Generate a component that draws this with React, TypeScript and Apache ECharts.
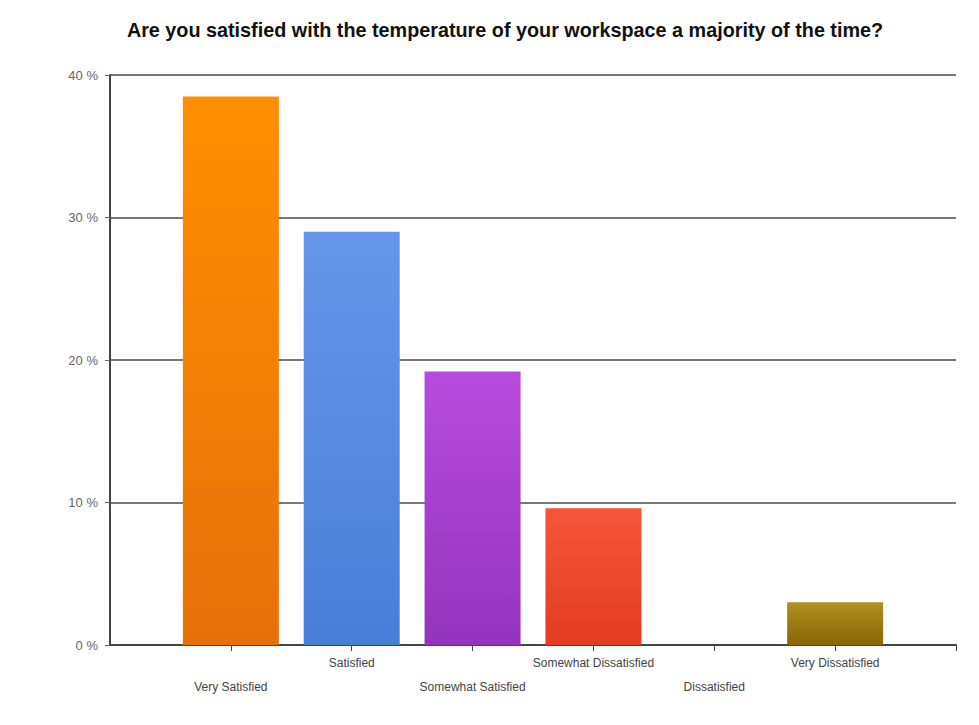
import React, { useEffect, useRef } from "react";
import * as echarts from "echarts";

const titleText = "Are you satisfied with the temperature of your workspace a majority of the time?";
const categories = [
  "Very Satisfied",
  "Satisfied",
  "Somewhat Satisfied",
  "Somewhat Dissatisfied",
  "Dissatisfied",
  "Very Dissatisfied",
];
const values = [38.5, 29.0, 19.2, 9.6, 0, 3.0];
const topColors = ["#FF8F00", "#6696EA", "#B84BDD", "#F5563A", "#B0921E"];
const bottomColors = ["#E8700A", "#4A7ED6", "#9434BE", "#E23C22", "#8A6406"];
const colorIndex = [0, 1, 2, 3, 4, 4];
const yTicks = [0, 10, 20, 30, 40];

export default function App() {
  const ref = useRef<HTMLDivElement>(null);
  useEffect(() => {
    if (!ref.current) return;
    const chart = echarts.init(ref.current, null, { renderer: "svg" });
    chart.setOption({
      animation: false,
      backgroundColor: "#ffffff",
      title: {
        text: titleText,
        left: 500,
        textAlign: "center",
        top: 15,
        textStyle: {
          fontFamily: "Liberation Sans, Arial, sans-serif",
          fontSize: 19.8,
          fontWeight: "bold",
          color: "#111",
        },
      },
      grid: { left: 110, right: 23, top: 75, bottom: 80, containLabel: false },
      xAxis: {
        type: "value",
        min: 0,
        max: categories.length + 1,
        interval: 1,
        splitLine: { show: false },
        axisLine: { show: true, onZero: false, lineStyle: { color: "#444", width: 2 } },
        axisTick: { show: true, length: 6, lineStyle: { color: "#444", width: 1 } },
        axisLabel: {
          margin: 6,
          fontSize: 12,
          lineHeight: 24,
          color: "#444",
          fontFamily: "Liberation Sans Narrow, Liberation Sans, Arial, sans-serif",
          showMinLabel: false,
          formatter: (v: number) => {
            const i = Math.round(v) - 1;
            if (i < 0 || i >= categories.length) return "";
            return i % 2 === 0 ? "\n" + categories[i] : categories[i];
          },
        },
      },
      yAxis: {
        type: "value",
        min: yTicks[0],
        max: yTicks[yTicks.length - 1],
        interval: 10,
        axisLine: { show: true, lineStyle: { color: "#444", width: 2 } },
        axisTick: { show: true, length: 5, lineStyle: { color: "#666" } },
        splitLine: { show: true, lineStyle: { color: "#777", width: 2 } },
        axisLabel: {
          formatter: "{value} %",
          fontSize: 13,
          color: "#666",
          margin: 12,
          fontFamily: "Liberation Sans, Arial, sans-serif",
        },
      },
      series: [
        {
          type: "bar",
          barWidth: 96,
          data: values.map((v, i) => ({
            value: [i + 1, v],
            itemStyle: {
              color: new echarts.graphic.LinearGradient(0, 0, 0, 1, [
                { offset: 0, color: topColors[colorIndex[i]] },
                { offset: 1, color: bottomColors[colorIndex[i]] },
              ]),
            },
          })),
        },
      ],
    });
    return () => chart.dispose();
  }, []);
  return <div ref={ref} style={{ width: 979, height: 725, position: "absolute", left: 0, top: 0 }} />;
}
